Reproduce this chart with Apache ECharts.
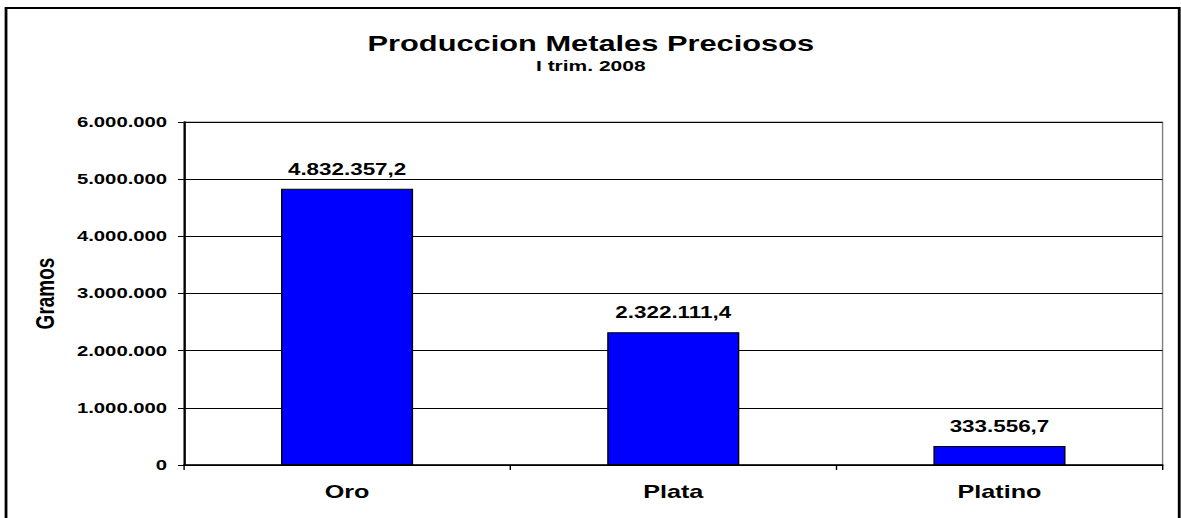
<!DOCTYPE html>
<html>
<head>
<meta charset="utf-8">
<script src="https://cdn.jsdelivr.net/npm/echarts@6/dist/echarts.min.js"></script>
<style>
  html, body { margin: 0; padding: 0; background: #fff; overflow: hidden; }
  /* the source picture is an old spreadsheet chart stretched sideways, so we draw narrow and widen it */
  #chart {
    width: 843.6px;
    height: 518px;
    transform: scaleX(1.4);
    transform-origin: 0 0;
  }
</style>
</head>
<body>
<div id="chart"></div>
<script>
const CATEGORIES = ['Oro', 'Plata', 'Platino']
const GRAMOS = [4832357.2, 2322111.4, 333556.7]
const Y_TICKS = [0, 1000000, 2000000, 3000000, 4000000, 5000000, 6000000]

const FONT = '"Liberation Sans", Arial, sans-serif'

// 4832357.2 -> "4.832.357,2"
function fmtMiles(v, dec) {
  const parts = Number(v).toFixed(dec).split('.')
  const ent = parts[0].replace(/\B(?=(\d{3})+(?!\d))/g, '.')
  return parts.length > 1 ? ent + ',' + parts[1] : ent
}

const chart = echarts.init(document.getElementById('chart'), null, { renderer: 'svg' })

chart.setOption({
  animation: false,
  backgroundColor: '#fff',
  title: {
    text: 'Produccion Metales Preciosos',
    subtext: 'I trim. 2008',
    left: 'center',
    top: 28,
    itemGap: 3,
    textStyle: { fontFamily: FONT, fontSize: 22, fontWeight: 'bold', color: '#000' },
    subtextStyle: { fontFamily: FONT, fontSize: 15, fontWeight: 'bold', color: '#000' },
  },
  graphic: [{
    type: 'rect',
    shape: { x: 4.3, y: 8, width: 838, height: 600 },
    style: { fill: 'none', stroke: '#000', lineWidth: 2 },
    silent: true,
  }],
  grid: {
    left: 131.4, right: 13.6, top: 122, bottom: 53,
    show: true,
    borderColor: '#808080',
    borderWidth: 1,
  },
  xAxis: {
    type: 'category',
    data: CATEGORIES,
    axisLine: { lineStyle: { color: '#000', width: 1.5 } },
    axisTick: { show: true, alignWithLabel: false, length: 5, lineStyle: { color: '#000' } },
    axisLabel: {
      margin: 18,
      fontFamily: FONT, fontSize: 18, fontWeight: 'bold', color: '#000',
    },
  },
  yAxis: {
    type: 'value',
    min: Y_TICKS[0],
    max: Y_TICKS[Y_TICKS.length - 1],
    interval: Y_TICKS[1] - Y_TICKS[0],
    name: 'Gramos',
    nameLocation: 'middle',
    nameGap: 90,
    nameTextStyle: { fontFamily: FONT, fontSize: 19, fontWeight: 'bold', color: '#000' },
    axisLine: { show: true, lineStyle: { color: '#000', width: 1.5 } },
    axisTick: { show: true, length: 4.3, lineStyle: { color: '#000' } },
    axisLabel: {
      margin: 12,
      fontFamily: FONT, fontSize: 14.5, fontWeight: 'bold', color: '#000',
      formatter: v => fmtMiles(v, 0),
    },
    splitLine: { lineStyle: { color: '#000', width: 1 } },
  },
  series: [{
    type: 'bar',
    data: GRAMOS,
    barWidth: '40.5%',
    itemStyle: { color: '#0000ff', borderColor: '#000', borderWidth: 1 },
    label: {
      show: true,
      position: 'top',
      distance: 12,
      fontFamily: FONT, fontSize: 16, fontWeight: 'bold', color: '#000',
      formatter: p => fmtMiles(p.value, 1),
    },
  }],
})
</script>
</body>
</html>
